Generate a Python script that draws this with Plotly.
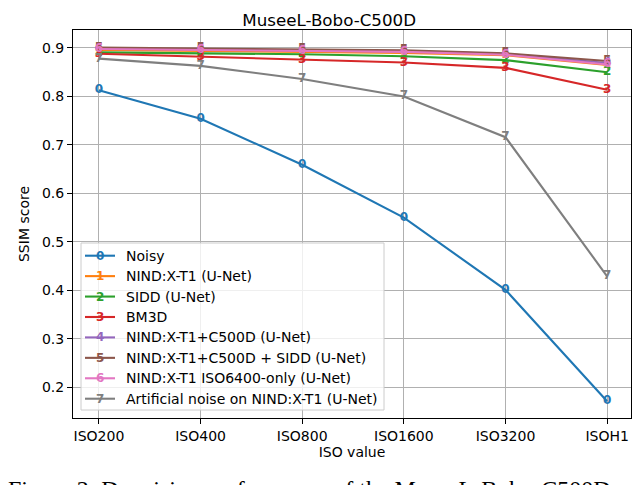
import plotly.graph_objects as go

# SSIM scores per ISO level
iso_levels = ["ISO200", "ISO400", "ISO800", "ISO1600", "ISO3200", "ISOH1"]

noisy = [0.813, 0.754, 0.659, 0.550, 0.401, 0.171]
nind_xt1 = [0.896, 0.894, 0.892, 0.890, 0.885, 0.865]
sidd = [0.891, 0.889, 0.887, 0.883, 0.875, 0.850]
bm3d = [0.888, 0.882, 0.876, 0.870, 0.859, 0.814]
nind_c500d = [0.899, 0.897, 0.895, 0.893, 0.888, 0.869]
nind_c500d_sidd = [0.901, 0.899, 0.897, 0.895, 0.889, 0.873]
nind_iso6400 = [0.898, 0.896, 0.894, 0.892, 0.886, 0.866]
artificial = [0.878, 0.863, 0.836, 0.800, 0.716, 0.429]

series_names = [
    "Noisy",
    "NIND:X-T1 (U-Net)",
    "SIDD (U-Net)",
    "BM3D",
    "NIND:X-T1+C500D (U-Net)",
    "NIND:X-T1+C500D + SIDD (U-Net)",
    "NIND:X-T1 ISO6400-only (U-Net)",
    "Artificial noise on NIND:X-T1 (U-Net)",
]
series_values = [noisy, nind_xt1, sidd, bm3d, nind_c500d,
                 nind_c500d_sidd, nind_iso6400, artificial]
colors = ["#1f77b4", "#ff7f0e", "#2ca02c", "#d62728",
          "#9467bd", "#8c564b", "#e377c2", "#7f7f7f"]

FONT = "DejaVu Sans"

# plot area in pixels
W, H = 640, 485
L, R, T, B = 65, 17, 22, 75
pw, ph = W - L - R, H - T - B


def px_x(x):
    return (x - L) / pw


def px_y(y):
    return (H - B - y) / ph


fig = go.Figure()

for i, (name, vals) in enumerate(zip(series_names, series_values)):
    fig.add_trace(go.Scatter(
        x=list(range(len(iso_levels))),
        y=vals,
        mode="lines+text",
        text=[str(i)] * len(vals),
        textposition="middle center",
        textfont=dict(family=FONT, size=12, color=colors[i], weight="bold"),
        line=dict(color=colors[i], width=2.1),
        name=name,
        showlegend=False,
        cliponaxis=False,
    ))

# hand-built legend (matplotlib style: line with the digit marker)
shapes = [dict(type="rect", xref="paper", yref="paper",
               x0=px_x(73), x1=px_x(376), y0=px_y(402), y1=px_y(235),
               fillcolor="rgba(255,255,255,0.8)",
               line=dict(color="#cccccc", width=1), layer="above")]
annotations = []
row0, step = 247.7, 20.43
for i, name in enumerate(series_names):
    yy = px_y(row0 + i * step)
    shapes.append(dict(type="line", xref="paper", yref="paper",
                       x0=px_x(77), x1=px_x(107), y0=yy, y1=yy,
                       line=dict(color=colors[i], width=2.1), layer="above"))
    annotations.append(dict(xref="paper", yref="paper", x=px_x(92), y=yy,
                            text=str(i), showarrow=False,
                            xanchor="center", yanchor="middle",
                            font=dict(family=FONT, size=12, color=colors[i],
                                      weight="bold")))
    annotations.append(dict(xref="paper", yref="paper", x=px_x(116), y=yy,
                            text=name, showarrow=False,
                            xanchor="left", yanchor="middle",
                            font=dict(family=FONT, size=14, color="black")))

# figure caption, cut off at the bottom of the picture
annotations.append(dict(xref="paper", yref="paper", x=px_x(-2), y=px_y(466),
                        text="Figure 2: Denoising performance of the MuseeL-Bobo-C500D",
                        showarrow=False, xanchor="left", yanchor="top",
                        font=dict(family="Liberation Serif", size=24,
                                  color="black")))

fig.update_layout(
    width=W, height=H,
    margin=dict(l=L, r=R, t=T, b=B),
    plot_bgcolor="white",
    paper_bgcolor="white",
    font=dict(family=FONT, size=14, color="black"),
    title=dict(text="MuseeL-Bobo-C500D", x=px_x(345), xanchor="center",
               y=1 - 12 / H, yanchor="middle",
               font=dict(family=FONT, size=16.7, color="black")),
    shapes=shapes,
    annotations=annotations,
)

fig.update_xaxes(
    range=[-0.255, 5.235],
    tickmode="array",
    tickvals=list(range(len(iso_levels))),
    ticktext=iso_levels,
    showgrid=True, gridcolor="#b0b0b0", gridwidth=1.1,
    showline=True, linecolor="black", linewidth=1.1, mirror=True,
    ticks="outside", ticklen=5, tickwidth=1.1, tickcolor="black",
    tickfont=dict(family=FONT, size=14),
    title=dict(text="ISO value", font=dict(family=FONT, size=14), standoff=1),
    zeroline=False,
)

fig.update_yaxes(
    range=[0.1366, 0.9371],
    tickmode="array",
    tickvals=[0.2, 0.3, 0.4, 0.5, 0.6, 0.7, 0.8, 0.9],
    ticktext=["0.2", "0.3", "0.4", "0.5", "0.6", "0.7", "0.8", "0.9"],
    showgrid=True, gridcolor="#b0b0b0", gridwidth=1.1,
    showline=True, linecolor="black", linewidth=1.1, mirror=True,
    ticks="outside", ticklen=5, tickwidth=1.1, tickcolor="black",
    tickfont=dict(family=FONT, size=14),
    title=dict(text="SSIM score", font=dict(family=FONT, size=14), standoff=8),
    zeroline=False,
)

fig.write_html("out.html")
